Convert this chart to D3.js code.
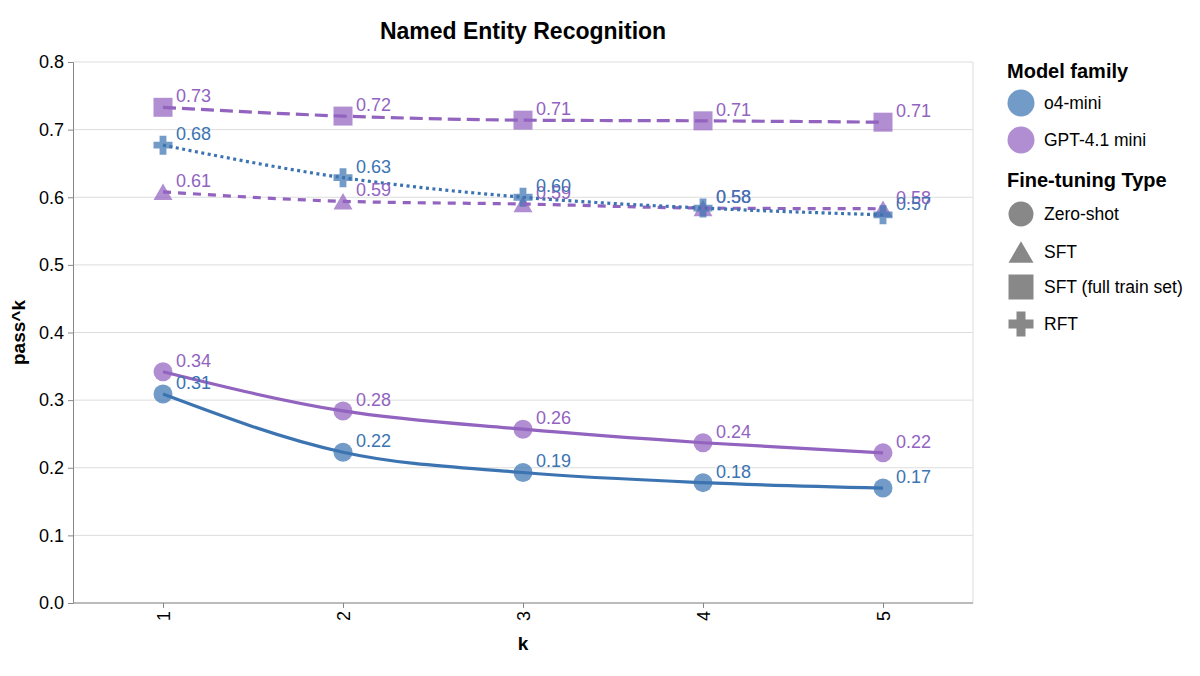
<!DOCTYPE html>
<html>
<head>
<meta charset="utf-8">
<script src="https://cdn.jsdelivr.net/npm/d3@7"></script>
<style>
  body { margin: 0; background: #fff; }
  text { font-family: "Liberation Sans", Arial, Helvetica, sans-serif; }
</style>
</head>
<body>
<svg id="chart" width="1200" height="676"></svg>
<script>
// ---------- data ----------
const ks = [1, 2, 3, 4, 5];
const yTicks = [0.0, 0.1, 0.2, 0.3, 0.4, 0.5, 0.6, 0.7, 0.8];
const modelFamilies = ["o4-mini", "GPT-4.1 mini"];
const fineTuningTypes = ["Zero-shot", "SFT", "SFT (full train set)", "RFT"];

const o4ZeroShot   = [0.309, 0.223, 0.193, 0.178, 0.170];
const gptZeroShot  = [0.342, 0.284, 0.257, 0.237, 0.222];
const gptSFT       = [0.608, 0.594, 0.590, 0.584, 0.583];
const gptSFTFull   = [0.733, 0.720, 0.714, 0.713, 0.711];
const o4RFT        = [0.677, 0.629, 0.600, 0.584, 0.574];

const series = [
  { family: "o4-mini",      type: "Zero-shot",            values: o4ZeroShot },
  { family: "GPT-4.1 mini", type: "Zero-shot",            values: gptZeroShot },
  { family: "GPT-4.1 mini", type: "SFT",                  values: gptSFT },
  { family: "GPT-4.1 mini", type: "SFT (full train set)", values: gptSFTFull },
  { family: "o4-mini",      type: "RFT",                  values: o4RFT }
];

// ---------- styles ----------
const colorScale = d3.scaleOrdinal().domain(modelFamilies).range(["#3c74b2", "#9263bf"]);
const dashScale = d3.scaleOrdinal().domain(fineTuningTypes).range(["none", "8,7", "13,6", "3,3.5"]);
const shapeScale = d3.scaleOrdinal().domain(fineTuningTypes).range(["circle", "triangle", "square", "cross"]);

function symbolPath(shape, s) {
  const r = s / 2;
  if (shape === "circle") {
    return `M${r},0A${r},${r} 0 1,1 ${-r},0A${r},${r} 0 1,1 ${r},0Z`;
  }
  if (shape === "square") {
    return `M${-r},${-r}H${r}V${r}H${-r}Z`;
  }
  if (shape === "triangle") {
    const h = r * 0.866;
    return `M0,${-h}L${r},${h}L${-r},${h}Z`;
  }
  const a = r * 0.36;
  return `M${-r},${-a}H${-a}V${-r}H${a}V${-a}H${r}V${a}H${a}V${r}H${-a}V${a}H${-r}Z`;
}

// ---------- layout ----------
const svg = d3.select("#chart");
const plot = { left: 73, right: 973, top: 62, bottom: 603 };

const x = d3.scalePoint().domain(ks).range([plot.left, plot.right]).padding(0.5);
const y = d3.scaleLinear().domain([0, 0.8]).range([plot.bottom, plot.top]);

// gridlines
svg.append("g")
  .selectAll("line")
  .data(yTicks)
  .join("line")
  .attr("x1", plot.left).attr("x2", plot.right)
  .attr("y1", d => y(d)).attr("y2", d => y(d))
  .attr("stroke", "#dddddd").attr("stroke-width", 1);

// right border
svg.append("line")
  .attr("x1", plot.right).attr("x2", plot.right)
  .attr("y1", plot.top).attr("y2", plot.bottom)
  .attr("stroke", "#dddddd");

// y axis
const yAxis = svg.append("g")
  .attr("transform", `translate(${plot.left},0)`)
  .call(d3.axisLeft(y).tickValues(yTicks).tickFormat(d3.format(".1f")).tickSize(5).tickPadding(4));
yAxis.select(".domain").attr("stroke", "#888");
yAxis.selectAll(".tick line").attr("stroke", "#888");
yAxis.selectAll(".tick text").attr("font-size", 18).attr("fill", "#000")
  .attr("font-family", '"Liberation Sans", Arial, sans-serif');

// x axis
const xAxis = svg.append("g")
  .attr("transform", `translate(0,${plot.bottom})`)
  .call(d3.axisBottom(x).tickSize(5).tickSizeOuter(0));
xAxis.select(".domain").attr("stroke", "#888").attr("d", `M${plot.left},0H${plot.right}`);
xAxis.selectAll(".tick line").attr("stroke", "#888");
xAxis.selectAll(".tick text")
  .attr("font-size", 18).attr("fill", "#000")
  .attr("font-family", '"Liberation Sans", Arial, sans-serif')
  .attr("text-anchor", "end")
  .attr("dy", null)
  .attr("y", 0)
  .attr("dominant-baseline", "central")
  .attr("transform", "translate(0,8) rotate(-90)");

// titles
svg.append("text")
  .attr("x", (plot.left + plot.right) / 2).attr("y", 39)
  .attr("text-anchor", "middle").attr("font-weight", "bold").attr("font-size", 23)
  .text("Named Entity Recognition");

svg.append("text")
  .attr("x", (plot.left + plot.right) / 2).attr("y", 650)
  .attr("text-anchor", "middle").attr("font-weight", "bold").attr("font-size", 19)
  .text("k");

svg.append("text")
  .attr("transform", `translate(25,${(plot.top + plot.bottom) / 2}) rotate(-90)`)
  .attr("text-anchor", "middle").attr("font-weight", "bold").attr("font-size", 19)
  .text("pass^k");

// ---------- marks ----------
const line = d3.line()
  .x(d => x(d.k))
  .y(d => y(d.v))
  .curve(d3.curveMonotoneX);

const seriesData = series.map(s => ({
  ...s,
  points: ks.map((k, i) => ({ k, v: s.values[i] }))
}));

const pointsG = svg.append("g");
seriesData.forEach(s => {
  pointsG.selectAll(null)
    .data(s.points)
    .join("path")
    .attr("transform", d => `translate(${x(d.k)},${y(d.v)})`)
    .attr("d", symbolPath(shapeScale(s.type), 19))
    .attr("fill", colorScale(s.family))
    .attr("fill-opacity", 0.72);
});

const linesG = svg.append("g");
seriesData.forEach(s => {
  linesG.append("path")
    .datum(s.points)
    .attr("d", line)
    .attr("fill", "none")
    .attr("stroke", colorScale(s.family))
    .attr("stroke-width", 3.2)
    .attr("stroke-dasharray", dashScale(s.type));
});

const labelsG = svg.append("g");
seriesData.forEach(s => {
  labelsG.selectAll(null)
    .data(s.points)
    .join("text")
    .attr("x", d => x(d.k) + 13)
    .attr("y", d => y(d.v) - 5)
    .attr("font-size", 18)
    .attr("fill", colorScale(s.family))
    .text(d => d.v.toFixed(2));
});

// ---------- legends ----------
const legend = svg.append("g");
legend.append("text")
  .attr("x", 1007).attr("y", 78)
  .attr("font-weight", "bold").attr("font-size", 20)
  .text("Model family");

modelFamilies.forEach((f, i) => {
  const cy = 103 + i * 37;
  legend.append("path")
    .attr("transform", `translate(1021,${cy})`)
    .attr("d", symbolPath("circle", 27))
    .attr("fill", colorScale(f)).attr("fill-opacity", 0.72);
  legend.append("text")
    .attr("x", 1044).attr("y", cy).attr("dominant-baseline", "central")
    .attr("font-size", 17.5)
    .text(f);
});

legend.append("text")
  .attr("x", 1007).attr("y", 187)
  .attr("font-weight", "bold").attr("font-size", 20)
  .text("Fine-tuning Type");

const typeY = [214, 252, 287, 324];
fineTuningTypes.forEach((t, i) => {
  const cy = typeY[i];
  legend.append("path")
    .attr("transform", `translate(1021,${cy})`)
    .attr("d", symbolPath(shapeScale(t), 25))
    .attr("fill", "#888888");
  legend.append("text")
    .attr("x", 1044).attr("y", cy).attr("dominant-baseline", "central")
    .attr("font-size", 17.5)
    .text(t);
});
</script>
</body>
</html>
